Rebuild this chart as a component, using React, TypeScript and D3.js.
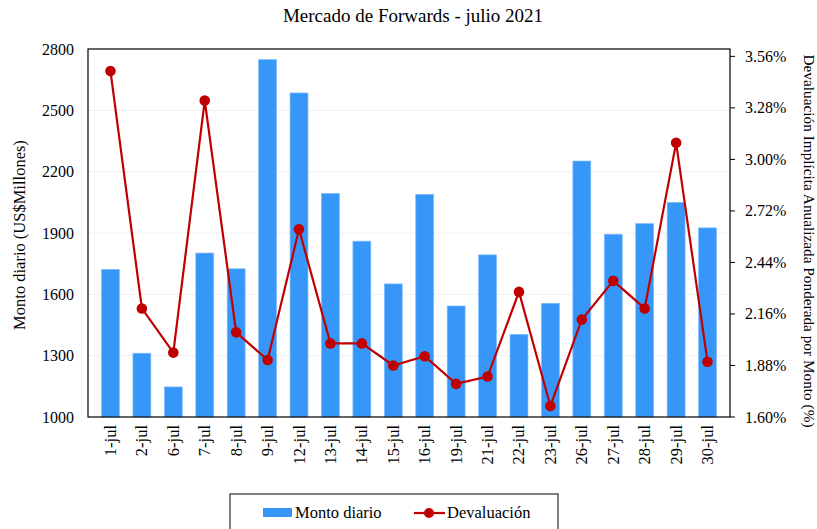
import React from "react";
import * as d3 from "d3";

const categories = [
  "1-jul", "2-jul", "6-jul", "7-jul", "8-jul", "9-jul", "12-jul", "13-jul", "14-jul", "15-jul",
  "16-jul", "19-jul", "21-jul", "22-jul", "23-jul", "26-jul", "27-jul", "28-jul", "29-jul", "30-jul",
];
const montoDiario = [
  1722, 1312, 1147, 1802, 1725, 2748, 2585, 2094, 1860, 1651,
  2089, 1543, 1793, 1404, 1556, 2252, 1894, 1946, 2050, 1925,
];
const devaluacion = [
  3.48, 2.19, 1.95, 3.32, 2.06, 1.91, 2.62, 2.0, 2.0, 1.88,
  1.93, 1.78, 1.82, 2.28, 1.66, 2.13, 2.34, 2.19, 3.09, 1.9,
];
const leftTicks = [1000, 1300, 1600, 1900, 2200, 2500, 2800];
const rightTicks = [1.6, 1.88, 2.16, 2.44, 2.72, 3.0, 3.28, 3.56];

const W = 817;
const H = 529;
const margin = { left: 88, right: 87, top: 49, bottom: 112 };
const font = "'Liberation Serif', 'Times New Roman', serif";

export default function App() {
  const x0 = margin.left;
  const x1 = W - margin.right;
  const y0 = H - margin.bottom;
  const y1 = margin.top;

  const xScale = d3.scaleBand().domain(categories).range([x0, x1]).padding(0.43);
  const yLeft = d3.scaleLinear().domain([1000, 2800]).range([y0, y1]);
  const yRight = d3.scaleLinear().domain([1.6, 3.6]).range([y0, y1]);

  const cx = (c: string) => (xScale(c) as number) + xScale.bandwidth() / 2;

  const linePath = d3
    .line<number>()
    .x((_, i) => cx(categories[i]))
    .y((v) => yRight(v))(devaluacion);

  return (
    <svg
      width={W}
      height={H}
      style={{ position: "absolute", left: 0, top: 0, background: "#fff" }}
      fontFamily={font}
    >
      <text x={413} y={22} textAnchor="middle" fontSize={19}>
        Mercado de Forwards - julio 2021
      </text>

      {/* gridlines */}
      {leftTicks.slice(1, -1).map((t) => (
        <line key={t} x1={x0} x2={x1} y1={yLeft(t)} y2={yLeft(t)} stroke="#f0f0f0" strokeWidth={1} />
      ))}

      {/* bars */}
      {montoDiario.map((v, i) => (
        <rect
          key={categories[i]}
          x={xScale(categories[i])}
          y={yLeft(v)}
          width={xScale.bandwidth()}
          height={y0 - yLeft(v)}
          fill="#3797f9"
          stroke="#7fbcff"
          strokeWidth={0.7}
        />
      ))}

      {/* line */}
      <path d={linePath || ""} fill="none" stroke="#c00000" strokeWidth={2.2} />
      {devaluacion.map((v, i) => (
        <circle key={categories[i]} cx={cx(categories[i])} cy={yRight(v)} r={5.3} fill="#c00000" />
      ))}

      {/* frame */}
      <rect x={x0} y={y1} width={x1 - x0} height={y0 - y1} fill="none" stroke="#000" strokeWidth={1.2} />

      {/* left axis */}
      {leftTicks.map((t) => (
        <text key={t} x={74} y={yLeft(t) + 5.5} textAnchor="end" fontSize={16}>
          {t}
        </text>
      ))}
      <text
        transform={`translate(25,235) rotate(-90)`}
        textAnchor="middle"
        fontSize={16.5}
      >
        Monto diario (US$Millones)
      </text>

      {/* right axis */}
      {rightTicks.map((t) => (
        <g key={t}>
          <line x1={x1} x2={x1 + 5} y1={yRight(t)} y2={yRight(t)} stroke="#000" strokeWidth={1} />
          <text x={745} y={yRight(t) + 5.5} fontSize={16}>
            {t.toFixed(2)}%
          </text>
        </g>
      ))}
      <text
        transform={`translate(804,241) rotate(90)`}
        textAnchor="middle"
        fontSize={15.3}
      >
        Devaluación Implícita Anualizada Ponderada por Monto (%)
      </text>

      {/* x labels */}
      {categories.map((c) => (
        <text
          key={c}
          transform={`translate(${cx(c) + 5.5},${y0 + 8}) rotate(-90)`}
          textAnchor="end"
          fontSize={16.5}
        >
          {c}
        </text>
      ))}

      {/* legend */}
      <rect x={230} y={494} width={328} height={50} fill="#fff" stroke="#000" strokeWidth={1} />
      <rect x={263} y={508} width={29} height={9} fill="#3797f9" />
      <text x={295} y={518} fontSize={16.5}>
        Monto diario
      </text>
      <line x1={414} x2={445} y1={513} y2={513} stroke="#c00000" strokeWidth={2.2} />
      <circle cx={429} cy={513} r={5} fill="#c00000" />
      <text x={447} y={518} fontSize={16.5}>
        Devaluación
      </text>
    </svg>
  );
}
